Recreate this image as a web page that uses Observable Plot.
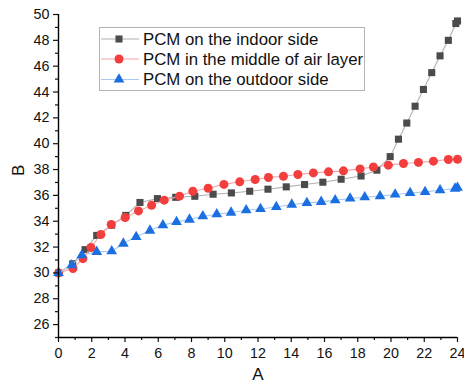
<!DOCTYPE html>
<html>
<head>
<meta charset="utf-8">
<script src="https://cdn.jsdelivr.net/npm/d3@7"></script>
<script src="https://cdn.jsdelivr.net/npm/@observablehq/plot@0.6"></script>
<style>
  html, body { margin: 0; padding: 0; background: #fff; }
  #wrap { position: relative; width: 464px; height: 389px; }
  #legend { position: absolute; left: 99px; top: 27px; }
</style>
</head>
<body>
<div id="wrap"><div id="chart"></div><div id="legend"></div></div>
<script>
// ---- data ----
const seriesNames = ["PCM on the indoor side", "PCM in the middle of air layer", "PCM on the outdoor side"];
const seriesColors = ["#4b4b4b", "#f43e3e", "#1c6fe0"];
const lineColors = ["#b0b0b0", "#f7a3a3", "#a9c9f2"];
const seriesSymbols = ["square", "circle", "triangle"];

const indoorX = [0, 0.85, 1.6, 2.3, 3.2, 4.05, 4.9, 5.95, 7.05, 8.2, 9.3, 10.4, 11.5, 12.6, 13.7, 14.8, 15.9, 17.0, 18.2, 19.15, 19.95, 20.45, 20.95, 21.45, 21.95, 22.45, 22.95, 23.45, 23.9, 24];
const indoorY = [30, 30.7, 31.8, 32.9, 33.7, 34.45, 35.45, 35.75, 35.85, 35.93, 36.09, 36.19, 36.32, 36.48, 36.66, 36.84, 37.02, 37.25, 37.5, 37.95, 39.0, 40.35, 41.6, 42.9, 44.2, 45.5, 46.8, 48.0, 49.3, 49.5];

const middleX = [0, 0.87, 1.47, 1.95, 2.55, 3.17, 4.01, 4.81, 5.6, 6.36, 7.28, 8.08, 9.0, 9.95, 10.9, 11.83, 12.63, 13.53, 14.4, 15.33, 16.24, 17.14, 18.14, 18.94, 19.84, 20.75, 21.65, 22.55, 23.45, 24];
const middleY = [30, 30.34, 31.1, 31.97, 32.97, 33.75, 34.29, 34.8, 35.24, 35.63, 35.94, 36.32, 36.55, 36.85, 37.05, 37.23, 37.38, 37.48, 37.62, 37.74, 37.82, 37.9, 38.05, 38.2, 38.34, 38.47, 38.55, 38.65, 38.78, 38.8];

const outdoorX = [0, 0.8, 1.4, 2.3, 3.2, 3.9, 4.67, 5.5, 6.28, 7.1, 7.88, 8.68, 9.52, 10.38, 11.29, 12.15, 13.1, 14.03, 14.94, 15.8, 16.64, 17.54, 18.42, 19.34, 20.25, 21.15, 22.05, 22.95, 23.85, 24];
const outdoorY = [30.0, 30.6, 31.37, 31.63, 31.68, 32.27, 32.79, 33.28, 33.7, 33.95, 34.13, 34.39, 34.54, 34.67, 34.85, 34.95, 35.1, 35.29, 35.42, 35.5, 35.63, 35.76, 35.86, 35.94, 36.07, 36.19, 36.27, 36.4, 36.53, 36.6];

const xMajorTicks = [0, 2, 4, 6, 8, 10, 12, 14, 16, 18, 20, 22, 24];
const xMinorTicks = [1, 3, 5, 7, 9, 11, 13, 15, 17, 19, 21, 23];
const yMajorTicks = [26, 28, 30, 32, 34, 36, 38, 40, 42, 44, 46, 48, 50];
const yMinorTicks = [25, 27, 29, 31, 33, 35, 37, 39, 41, 43, 45, 47, 49];
const xLabel = "A";
const yLabel = "B";

// ---- build tables ----
const seriesXs = [indoorX, middleX, outdoorX];
const seriesYs = [indoorY, middleY, outdoorY];
const tables = seriesXs.map((xs, i) => xs.map((x, j) => ({x, y: seriesYs[i][j]})));

const symbolR = {square: 4.0, circle: 4.5, triangle: 4.0};

const marks = [];
tables.forEach((t, i) => {
  marks.push(Plot.line(t, {x: "x", y: "y", stroke: lineColors[i], strokeWidth: 1.1}));
  marks.push(Plot.dot(t, {x: "x", y: "y", symbol: () => seriesSymbols[i], r: symbolR[seriesSymbols[i]], fill: seriesColors[i], stroke: "none"}));
});

const chart = Plot.plot({
  width: 464,
  height: 389,
  marginLeft: 58,
  marginRight: 7,
  marginTop: 14,
  marginBottom: 52,
  x: {domain: [0, 24]},
  y: {domain: [25, 50]},
  style: {fontFamily: "'Liberation Sans', Arial, sans-serif", fontSize: "14.3px", color: "#111", background: "#fff", overflow: "visible"},
  marks: [
    ...marks,
    Plot.axisY({ticks: yMajorTicks, tickSize: 5, tickPadding: 4, label: null, strokeWidth: 1.2}),
    Plot.axisY({ticks: yMinorTicks, tickSize: 3, tickFormat: () => "", label: null, strokeWidth: 1.2}),
    Plot.axisX({ticks: xMajorTicks, tickSize: 5, tickPadding: 5, label: null, strokeWidth: 1.2}),
    Plot.axisX({ticks: xMinorTicks, tickSize: 3, tickFormat: () => "", label: null, strokeWidth: 1.2}),
    Plot.ruleX([0], {y1: 25, y2: 50, stroke: "#000", strokeWidth: 1.4}),
    Plot.ruleY([25], {x1: 0, x2: 24, stroke: "#000", strokeWidth: 1.4}),
    Plot.text([xLabel], {text: d => d, frameAnchor: "bottom", dy: 42, fontSize: 17, fill: "#111"}),
    Plot.text([yLabel], {text: d => d, frameAnchor: "left", dx: -40, rotate: -90, fontSize: 17, fill: "#111"})
  ]
});
document.getElementById("chart").appendChild(chart);

// ---- legend ----
const lw = 266, lh = 64;
const leg = d3.select("#legend").append("svg").attr("width", lw).attr("height", lh)
  .style("font-family", "'Liberation Sans', Arial, sans-serif");
leg.append("rect").attr("x", 0.5).attr("y", 0.5).attr("width", lw - 1).attr("height", lh - 1)
  .attr("fill", "#fff").attr("stroke", "#b4b4b4").attr("stroke-width", 1);
const rowY = [12, 32, 52.5];
seriesNames.forEach((name, i) => {
  const g = leg.append("g").attr("transform", `translate(0,${rowY[i]})`);
  g.append("line").attr("x1", 2).attr("x2", 40).attr("y1", 0).attr("y2", 0)
    .attr("stroke", lineColors[i]).attr("stroke-width", 1.1);
  const sym = {square: d3.symbolSquare, circle: d3.symbolCircle, triangle: d3.symbolTriangle}[seriesSymbols[i]];
  const r = symbolR[seriesSymbols[i]];
  g.append("path").attr("d", d3.symbol(sym, r * r * Math.PI)()).attr("transform", "translate(20,0)")
    .attr("fill", seriesColors[i]);
  g.append("text").attr("x", 44).attr("y", 0).attr("dy", "0.35em").attr("font-size", 16.8)
    .attr("fill", "#111").text(name);
});
</script>
</body>
</html>
